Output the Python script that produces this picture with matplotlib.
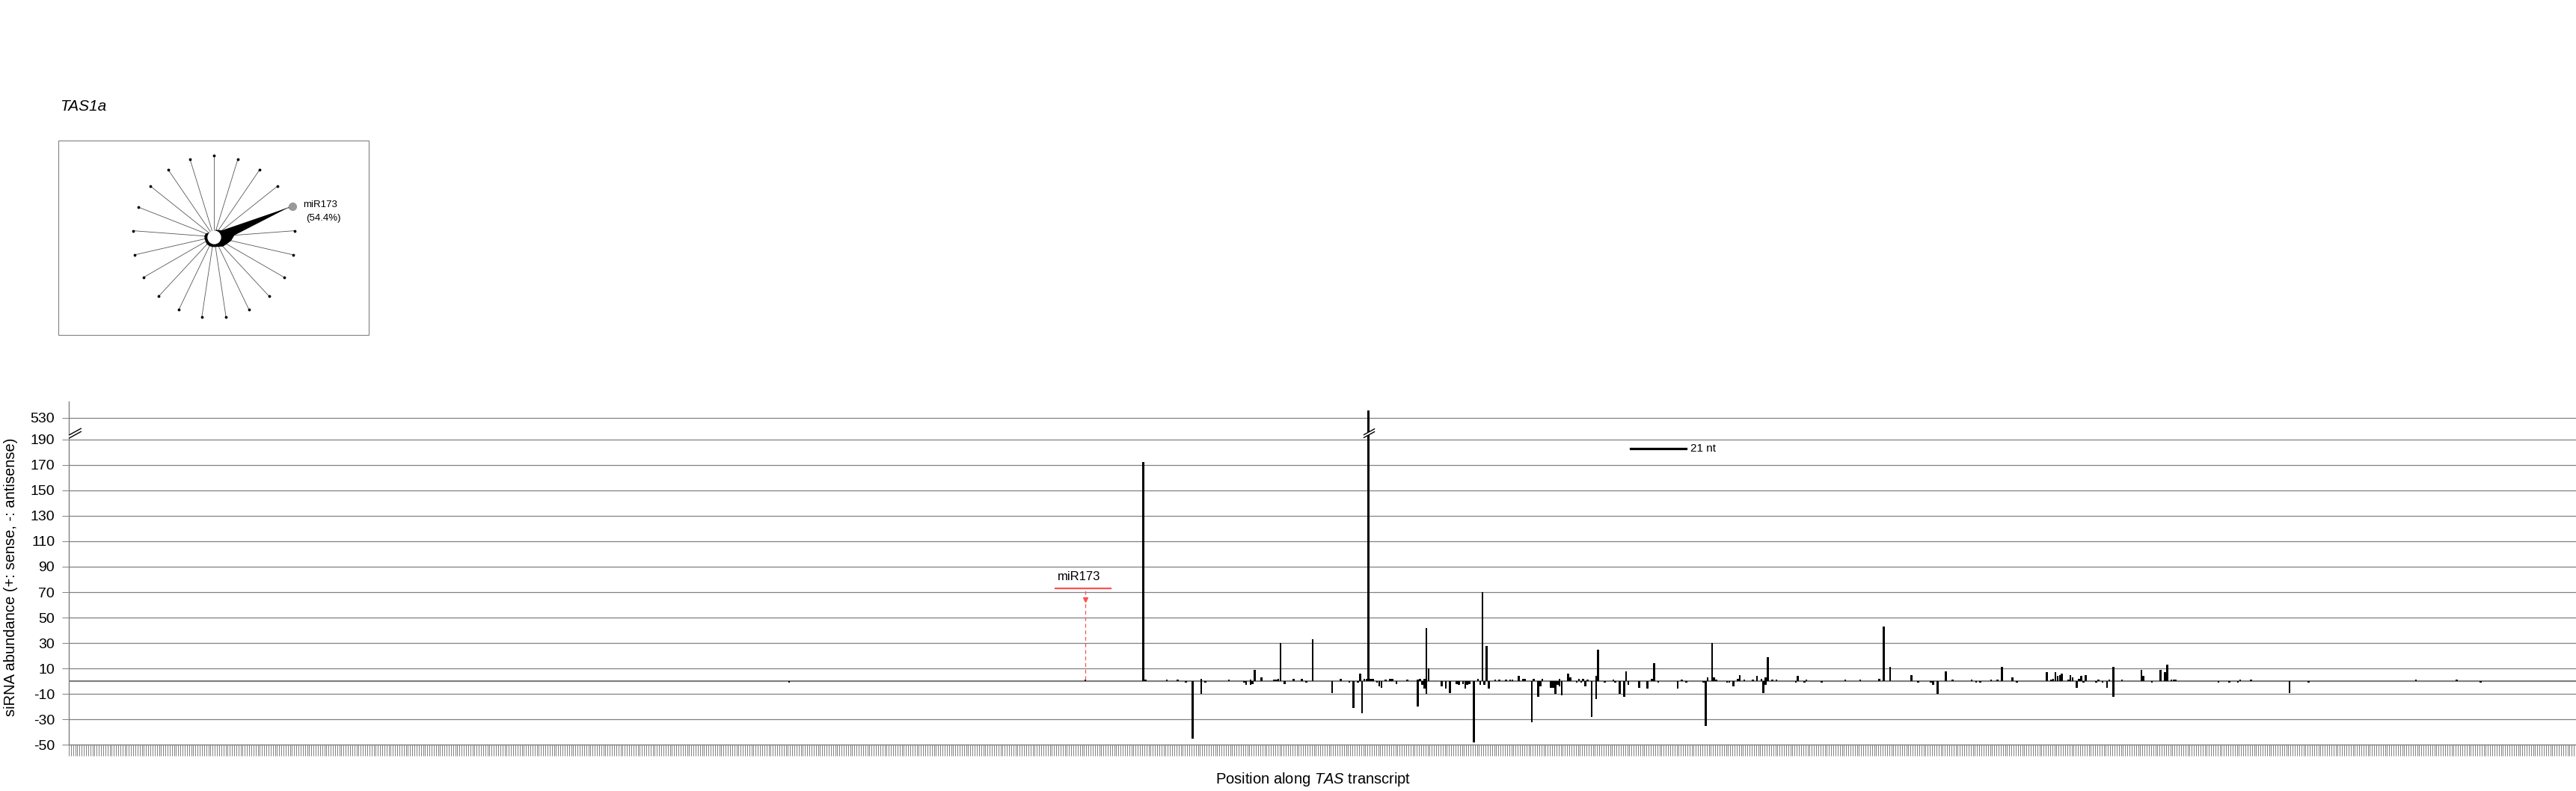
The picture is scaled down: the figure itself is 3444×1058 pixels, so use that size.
import numpy as np
import matplotlib.pyplot as plt
from matplotlib.path import Path
from matplotlib.patches import Rectangle

plt.rcParams['font.family'] = ['Liberation Sans', 'DejaVu Sans']
plt.rcParams['mathtext.fontset'] = 'custom'
plt.rcParams['mathtext.rm'] = 'Liberation Sans'
plt.rcParams['mathtext.it'] = 'Liberation Sans:italic'

# ---- data ----
transcript_len = 1168

sense_pos = [474, 501, 502, 512, 517, 528, 541, 551, 553, 556, 562, 563, 564, 565,
             571, 575, 580, 593, 602, 604, 605, 606, 607, 608, 614, 616, 617, 624,
             629, 630, 632, 633, 634, 657, 659, 661, 665, 667, 670, 672, 673, 676,
             678, 679, 683, 687, 695, 699, 700, 704, 706, 708, 712, 713, 720, 726,
             738, 739, 752, 764, 766, 767, 768, 778, 779, 781, 785, 787, 789, 791,
             792, 794, 796, 806, 810, 828, 835, 844, 846, 849, 859, 875, 878, 887,
             896, 899, 901, 906, 922, 924, 925, 926, 927, 928, 929, 932, 933, 934,
             937, 938, 940, 946, 951, 953, 957, 966, 967, 975, 977, 978, 980, 981,
             982, 1012, 1017, 1094, 1113]
sense_val = [1, 172, 1, 1, 1, 2, 1, 1, 9, 3, 1, 1, 2, 30,
             2, 2, 33, 2, 6, 2, 2, 650, 2, 2, 1, 2, 2, 1,
             1, 2, 2, 42, 10, 2, 70, 28, 1, 1, 1, 1, 1, 4,
             2, 2, 2, 2, 2, 6, 3, 2, 2, 1, 4, 25, 1, 8,
             2, 14, 1, 3, 30, 3, 1, 2, 5, 1, 1, 4, 2, 3,
             19, 1, 1, 4, 1, 1, 1, 2, 43, 11, 5, 8, 1, 1,
             1, 1, 11, 3, 7, 1, 2, 7, 4, 5, 6, 1, 5, 3,
             2, 4, 5, 1, 1, 11, 1, 9, 4, 9, 7, 13, 1, 1,
             1, 1, 1, 1, 1]

anti_pos = [336, 521, 524, 528, 530, 548, 549, 551, 552, 567, 577, 589, 597, 599,
            601, 603, 610, 611, 612, 619, 629, 631, 632, 633, 640, 642, 644, 647,
            648, 650, 651, 652, 653, 655, 658, 660, 662, 682, 685, 686, 691, 692,
            693, 694, 695, 696, 703, 705, 707, 710, 712, 716, 721, 723, 725, 727,
            732, 736, 741, 750, 754, 762, 763, 773, 774, 776, 790, 791, 805, 809,
            817, 862, 868, 869, 871, 889, 891, 908, 936, 939, 945, 948, 950, 953,
            971, 1002, 1007, 1011, 1035, 1044, 1124]
anti_val = [-1, -1, -45, -10, -1, -1, -3, -3, -2, -2, -1, -9, -1, -21,
            -1, -25, -1, -4, -5, -2, -20, -3, -6, -10, -4, -6, -9, -2,
            -3, -2, -6, -3, -2, -48, -3, -3, -6, -32, -12, -4, -5, -5,
            -10, -3, -4, -11, -1, -1, -4, -28, -14, -1, -1, -10, -12, -3,
            -5, -6, -1, -6, -1, -1, -35, -1, -1, -4, -9, -3, -1, -1,
            -1, -1, -1, -3, -10, -1, -1, -1, -5, -1, -1, -1, -5, -12,
            -1, -1, -1, -1, -9, -1, -1]

ytick_vals = [-50, -30, -10, 10, 30, 50, 70, 90, 110, 130, 150, 170, 190, 530]
ytick_labels = [str(v) for v in ytick_vals]

# phase register distribution (21 positions, %)
phase_pct = [4, 5, 5.5, 7, 54.4, 14, 12, 10, 9, 7.5, 7, 7, 7, 7,
             6.5, 6.5, 6.5, 6, 4.5, 4, 4]
mir_register = 4

mir_site = (460, 486)
mir_cut = 474

RED = '#ff5050'
GRAY = '#808080'
W, H = 3444, 1058


# broken y axis: values above 190 are compressed 20x
def fwd(v):
    v = np.asarray(v, dtype=float)
    return np.where(v <= 190, v, 190 + (v - 190) / 20.0)


def inv(t):
    t = np.asarray(t, dtype=float)
    return np.where(t <= 190, t, 190 + (t - 190) * 20.0)


brk_fill = Path([(-1, -0.8), (1, 0.3), (1, 0.8), (-1, -0.3), (-1, -0.8)],
                [Path.MOVETO, Path.LINETO, Path.LINETO, Path.LINETO, Path.CLOSEPOLY])
brk_lines = Path([(-1, -0.8), (1, 0.3), (-1, -0.3), (1, 0.8)],
                 [Path.MOVETO, Path.LINETO, Path.MOVETO, Path.LINETO])


def draw_break(ax, x, y, ms, transform):
    ax.plot([x], [y], marker=brk_fill, ms=ms, mfc='white', mec='none', ls='none',
            transform=transform, clip_on=False, zorder=6)
    ax.plot([x], [y], marker=brk_lines, ms=ms, mfc='none', mec='black', mew=1.0,
            ls='none', transform=transform, clip_on=False, zorder=7)


fig = plt.figure(figsize=(W / 100, H / 100), dpi=100)

# ---- main bar chart ----
ax = fig.add_axes([92 / W, 1 - 996.3 / H, 1 - 92 / W, (996.3 - 536.7) / H])
ax.set_yscale('function', functions=(fwd, inv))
ax.bar(sense_pos, sense_val, width=0.9, color='black', linewidth=0, zorder=3)
ax.bar(anti_pos, anti_val, width=0.9, color='black', linewidth=0, zorder=3)
ax.axhline(0, color=GRAY, lw=1.6, zorder=2)

ax.set_xlim(0.5, transcript_len + 0.5)
ax.set_ylim(-50, 790)
ax.set_yticks(ytick_vals)
ax.set_yticklabels(ytick_labels)
ax.set_xticks(np.arange(0.5, transcript_len + 1, 1))
ax.tick_params(axis='x', length=10.6, width=0.7, color=GRAY, labelbottom=False)
ax.tick_params(axis='y', length=6.5, width=0.7, color=GRAY, labelsize=14, pad=7)
ax.yaxis.grid(True, color=GRAY, lw=0.9)
ax.set_axisbelow(True)
for s in ['top', 'right']:
    ax.spines[s].set_visible(False)
for s in ['left', 'bottom']:
    ax.spines[s].set_color(GRAY)
    ax.spines[s].set_linewidth(1.0)

# axis break marks
draw_break(ax, 0.0025, 290, 12, ax.get_yaxis_transform())
draw_break(ax, 606, 290, 11, ax.transData)

# miR173 target site
ax.plot(mir_site, [73, 73], color=RED, lw=1.6, zorder=4)
ax.plot([mir_cut, mir_cut], [1.5, 72], color=RED, lw=0.9, ls=(0, (4, 3)), zorder=4)
ax.plot([mir_cut], [64], marker='v', ms=5, color=RED, zorder=4)
ax.text(471, 82, 'miR173', ha='center', va='center', fontsize=12)

# 21 nt scale bar
ax.plot([728, 754], [183, 183], color='black', lw=2.3)
ax.text(756, 183, '21 nt', va='center', fontsize=11)

fig.text(15 / W, 1 - 772 / H, 'siRNA abundance (+: sense, -: antisense)',
         rotation=90, ha='center', va='center', fontsize=14.5)
fig.text(1756 / W, 1 - 1043 / H, r'Position along $\mathit{TAS}$ transcript',
         ha='center', va='center', fontsize=14.5)

# ---- phase radar ----
fig.text(80 / W, 1 - 142 / H, 'TAS1a', style='italic', va='center', fontsize=15)
fig.add_artist(Rectangle((78 / W, 1 - 448 / H), 415 / W, 260 / H,
                         transform=fig.transFigure, fill=False, ec=GRAY, lw=0.8))

R = 108.3
cx, cy = 286, 316.7
pax = fig.add_axes([(cx - R) / W, 1 - (cy + R) / H, 2 * R / W, 2 * R / H],
                   projection='polar')
pax.set_theta_zero_location('N')
pax.set_theta_direction(-1)
pax.set_ylim(0, 55)
theta = np.arange(len(phase_pct)) * 2 * np.pi / len(phase_pct)
for t in theta:
    pax.plot([t, t], [0, 55], color='#555555', lw=0.6, zorder=1)
pax.scatter(theta, np.full(len(theta), 55), s=3, color='black', zorder=2, clip_on=False)
pax.fill(np.append(theta, theta[0]), np.append(phase_pct, phase_pct[0]),
         color='black', lw=0, zorder=3)
pax.scatter([0], [0], s=150, color='white', zorder=5)
pax.scatter([theta[mir_register]], [57.2], s=50, color='#999999', zorder=4, clip_on=False)
pax.grid(False)
pax.set_xticks([])
pax.set_yticks([])
pax.spines['polar'].set_visible(False)
pax.patch.set_alpha(0)

fig.text(405 / W, 1 - 273.7 / H, 'miR173', va='center', fontsize=9.5)
fig.text(409 / W, 1 - 291.7 / H, '(%.1f%%)' % phase_pct[mir_register], va='center',
         fontsize=9.5)

fig.savefig('out.png', dpi=100)
